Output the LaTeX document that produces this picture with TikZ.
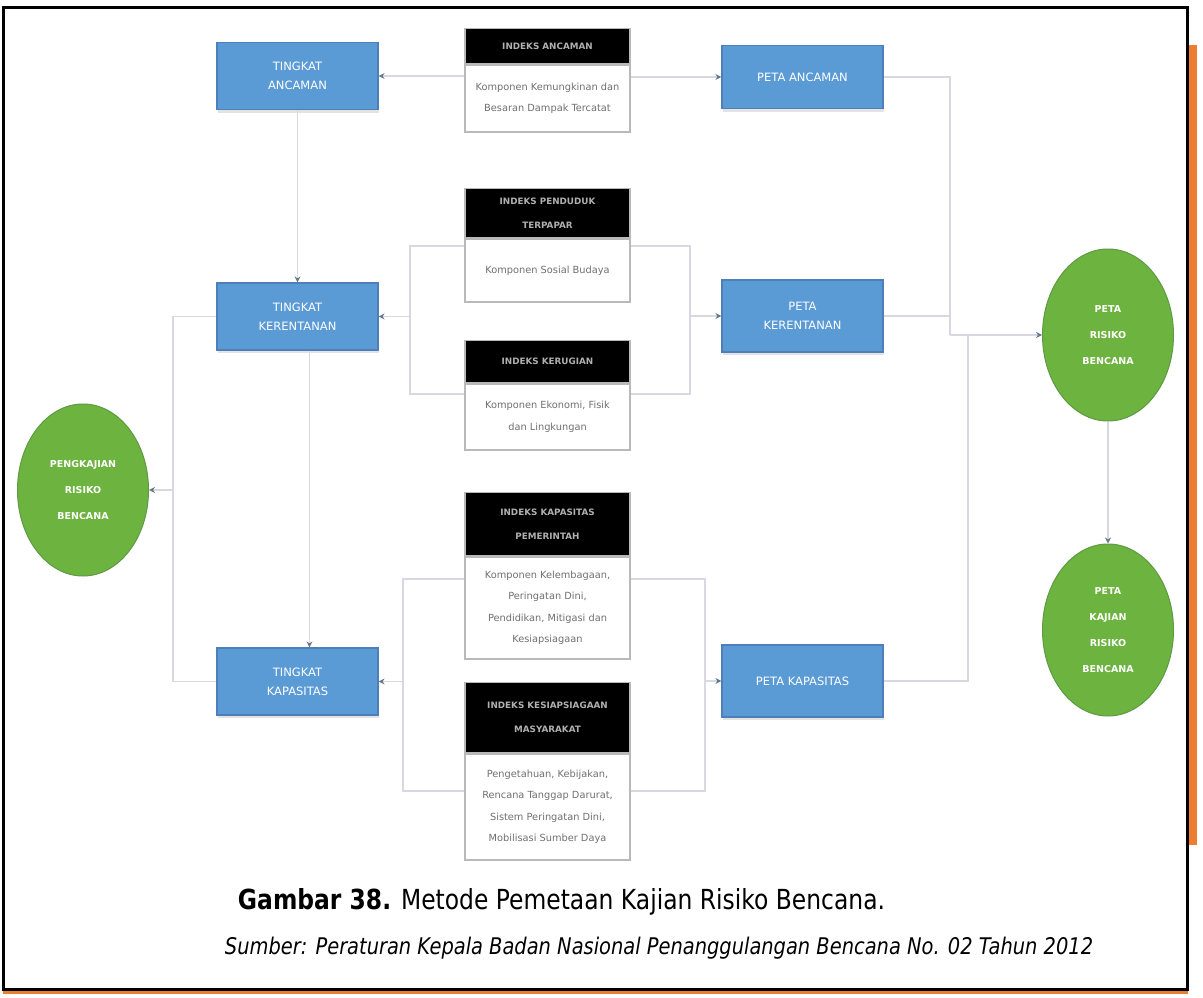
\documentclass[tikz,border=0pt]{standalone}
\usepackage{fontspec}
\setmainfont{DejaVu Sans}
\usetikzlibrary{arrows.meta,shapes.geometric,shadows}

\definecolor{boxblue}{HTML}{5B9BD5}
\definecolor{boxedge}{HTML}{4E7FB8}
\definecolor{leaf}{HTML}{6DB33F}
\definecolor{leafedge}{HTML}{5F9A45}
\definecolor{wire}{HTML}{D8D8E2}
\definecolor{tipgray}{HTML}{66788A}
\definecolor{frameorange}{HTML}{ED7D31}
\definecolor{headtext}{HTML}{B0B0B0}
\definecolor{bodytext}{HTML}{707070}

\tikzset{
  lvl/.style={rectangle, fill=boxblue, draw=boxedge, line width=1.2pt,
    minimum width=161pt, text=white, align=center, inner sep=2pt,
    font=\fontsize{11.5}{19}\selectfont,
    drop shadow={opacity=0.22, shadow xshift=1pt, shadow yshift=-3pt}},
  leafnode/.style={ellipse, fill=leaf, draw=leafedge, line width=1pt,
    minimum width=131pt, minimum height=172pt, inner sep=0pt,
    text=white, align=center, font=\bfseries\fontsize{9.5}{26}\selectfont},
  idxhead/.style={rectangle, fill=black, draw=gray!55, line width=1.2pt,
    minimum width=165pt, anchor=north, text=headtext, align=center,
    inner sep=2pt, font=\bfseries\fontsize{8.8}{24}\selectfont},
  idxbody/.style={rectangle, fill=white, draw=gray!55, line width=1.6pt,
    minimum width=165pt, anchor=north, text=bodytext, align=center,
    inner sep=2pt, font=\fontsize{9.8}{21.5}\selectfont},
  conn/.style={draw=wire, line width=1.6pt},
  tip/.style={-{Stealth[length=6pt,width=6pt,color=tipgray]}},
}

\begin{document}
\begin{tikzpicture}[x=1pt,y=-1pt]
  % page and frame
  \fill[white] (0,0) rectangle (1203,998);
  \useasboundingbox (0,0) rectangle (1203,998);
  \fill[frameorange] (1188,45) rectangle (1197,845);
  \fill[frameorange] (3,990.5) rectangle (1188,994);
  \draw[line width=3pt] (3,8) rectangle (1187,989);

  % level boxes (left column)
  \node[lvl, minimum height=67pt] (t1) at (297.5,76)    {TINGKAT\\ANCAMAN};
  \node[lvl, minimum height=67pt] (t2) at (297.5,316.5) {TINGKAT\\KERENTANAN};
  \node[lvl, minimum height=67pt] (t3) at (297.5,681.5) {TINGKAT\\KAPASITAS};

  % map boxes (right column)
  \node[lvl, minimum height=63pt] (r1) at (802.5,77)  {PETA ANCAMAN};
  \node[lvl, minimum height=72pt] (r2) at (802.5,316) {PETA\\KERENTANAN};
  \node[lvl, minimum height=72pt] (r3) at (802.5,681) {PETA KAPASITAS};

  % ellipses
  \node[leafnode] (e1) at (83,490)   {PENGKAJIAN\\RISIKO\\BENCANA};
  \node[leafnode] (e2) at (1108,335) {PETA\\RISIKO\\BENCANA};
  \node[leafnode] (e3) at (1108,630) {PETA\\KAJIAN\\RISIKO\\BENCANA};

  % index boxes (middle column)
  \node[idxhead, minimum height=35pt] (b1h) at (547.5,28) {INDEKS ANCAMAN};
  \node[idxbody, minimum height=67pt] (b1b) at (b1h.south)
    {Komponen Kemungkinan dan\\Besaran Dampak Tercatat};

  \node[idxhead, minimum height=49pt] (b2h) at (547.5,188) {INDEKS PENDUDUK\\TERPAPAR};
  \node[idxbody, minimum height=63pt] (b2b) at (b2h.south)
    {Komponen Sosial Budaya};

  \node[idxhead, minimum height=42pt] (b3h) at (547.5,340) {INDEKS KERUGIAN};
  \node[idxbody, minimum height=66pt] (b3b) at (b3h.south)
    {Komponen Ekonomi, Fisik\\dan Lingkungan};

  \node[idxhead, minimum height=63pt] (b4h) at (547.5,492) {INDEKS KAPASITAS\\PEMERINTAH};
  \node[idxbody, minimum height=102pt] (b4b) at (b4h.south)
    {Komponen Kelembagaan,\\Peringatan Dini,\\Pendidikan, Mitigasi dan\\Kesiapsiagaan};

  \node[idxhead, minimum height=70pt] (b5h) at (547.5,682) {INDEKS KESIAPSIAGAAN\\MASYARAKAT};
  \node[idxbody, minimum height=106pt] (b5b) at (b5h.south)
    {Pengetahuan, Kebijakan,\\Rencana Tanggap Darurat,\\Sistem Peringatan Dini,\\Mobilisasi Sumber Daya};

  % junction points of the connector buses
  \coordinate (lbus) at (173,490);
  \coordinate (mtl) at (410,316.5);
  \coordinate (mtr) at (690,316);
  \coordinate (mbl) at (403,681.5);
  \coordinate (mbr) at (705,681);
  \coordinate (rbus) at (950,335);
  \coordinate (rbus2) at (968,335);

  % top row
  \draw[conn,tip] (b1b.west |- t1.east) -- (t1.east);
  \draw[conn,tip] (b1b.east |- r1.west) -- (r1.west);

  % left column chain
  \draw[conn,tip] (t1.south) -- (t2.north);
  \draw[conn,tip] ([xshift=12pt]t2.south) -- ([xshift=12pt]t3.north);

  % levels to the starting ellipse
  \draw[conn] (t2.west) -| (lbus);
  \draw[conn] (t3.west) -| (lbus);
  \draw[conn,tip] (lbus) -- (e1.east);

  % vulnerability bracket
  \draw[conn] ([yshift=-8pt]b2b.north west) -| (mtl);
  \draw[conn] ([yshift=-11pt]b3b.north west) -| (mtl);
  \draw[conn,tip] (mtl) -- (t2.east);
  \draw[conn] ([yshift=-8pt]b2b.north east) -| (mtr);
  \draw[conn] ([yshift=-11pt]b3b.north east) -| (mtr);
  \draw[conn,tip] (mtr) -- (r2.west);

  % capacity bracket
  \draw[conn] ([yshift=-23pt]b4b.north west) -| (mbl);
  \draw[conn] ([yshift=-38pt]b5b.north west) -| (mbl);
  \draw[conn,tip] (mbl) -- (t3.east);
  \draw[conn] ([yshift=-23pt]b4b.north east) -| (mbr);
  \draw[conn] ([yshift=-38pt]b5b.north east) -| (mbr);
  \draw[conn,tip] (mbr) -- (r3.west);

  % maps to the risk map
  \draw[conn] (r1.east) -| (rbus);
  \draw[conn] (r2.east) -| (rbus);
  \draw[conn] (r3.east) -| (rbus2);
  \draw[conn,tip] (rbus) -- (e2.west);
  \draw[conn,tip] (e2.south) -- (e3.north);

  % caption
  \node (cap) at (561.5,902)
    {\resizebox{647pt}{!}{\scalebox{1}[1.18]{\textbf{Gambar 38.} Metode Pemetaan Kajian Risiko Bencana.}}};
  \node (src) at (659,948)
    {\resizebox{868pt}{!}{\scalebox{1}[1.18]{\itshape Sumber: Peraturan Kepala Badan Nasional Penanggulangan Bencana No. 02 Tahun 2012}}};
\end{tikzpicture}
\end{document}
